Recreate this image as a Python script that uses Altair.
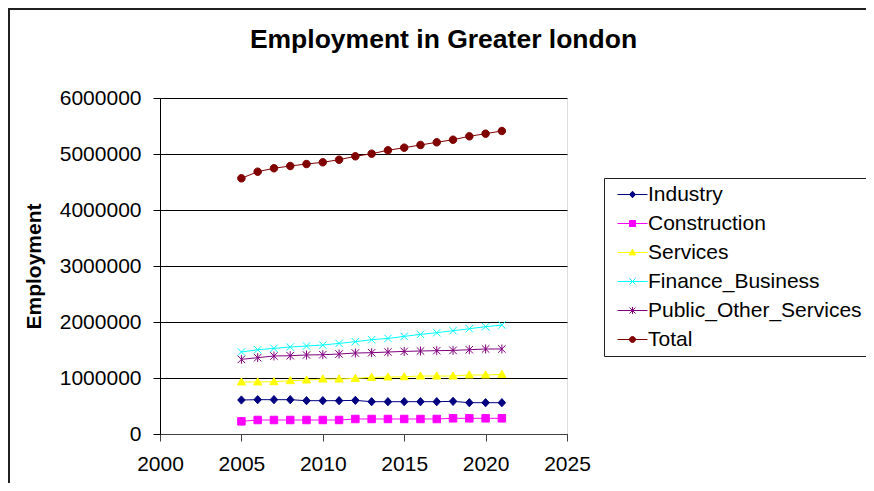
import altair as alt
import pandas as pd

years = list(range(2005, 2022))
series = ["Industry", "Construction", "Services", "Finance_Business", "Public_Other_Services", "Total"]
colors = ["#000080", "#FF00FF", "#FFFF00", "#00FFFF", "#800080", "#800000"]

industry = [607000, 613000, 613000, 613000, 595000, 595000, 595000, 601000, 577000,
            577000, 577000, 577000, 577000, 583000, 559000, 559000, 559000]
construction = [226000, 250000, 250000, 250000, 250000, 250000, 250000, 268000, 268000,
                268000, 268000, 268000, 268000, 280000, 280000, 280000, 280000]
services = [929000, 929000, 934000, 952000, 964000, 982000, 982000, 993000, 1011000,
            1017000, 1023000, 1035000, 1035000, 1035000, 1054000, 1054000, 1064000]
finance = [1464000, 1505000, 1529000, 1553000, 1571000, 1589000, 1618000, 1648000, 1684000,
           1707000, 1743000, 1779000, 1809000, 1845000, 1880000, 1916000, 1946000]
public = [1333000, 1363000, 1393000, 1398000, 1411000, 1416000, 1428000, 1446000, 1452000,
          1464000, 1475000, 1482000, 1488000, 1493000, 1505000, 1518000, 1518000]
total = [4566000, 4684000, 4745000, 4786000, 4821000, 4852000, 4898000, 4959000, 5005000,
         5066000, 5113000, 5161000, 5209000, 5255000, 5316000, 5363000, 5411000]

x_ticks = [2000, 2005, 2010, 2015, 2020, 2025]
y_ticks = [0, 1000000, 2000000, 3000000, 4000000, 5000000, 6000000]

marker_paths = [
    "M0,-1.1L1,0L0,1.1L-1,0Z",
    "M-1,-1L1,-1L1,1L-1,1Z",
    "M0,-1.1L1.1,0.8L-1.1,0.8Z",
    "M-1,-1L1,1M-1,1L1,-1",
    "M-1,-1L1,1M-1,1L1,-1M0,-1.2L0,1.2",
    "M1,0A1,1,0,1,1,-1,0A1,1,0,1,1,1,0Z",
]
legend_line = "M-5,0L5,0"
legend_paths = [legend_line + p for p in marker_paths]

values = [industry, construction, services, finance, public, total]
rows = []
for name, vals in zip(series, values):
    for yr, v in zip(years, vals):
        rows.append({"year": yr, "series": name, "value": v, "entry": name})
df = pd.DataFrame(rows)

FONT = "Liberation Sans"

color_scale = alt.Scale(domain=series, range=colors)

x_enc = alt.X("year:Q", scale=alt.Scale(domain=[2000, 2025], nice=False, zero=False),
              axis=alt.Axis(values=x_ticks, format="d", title=None, grid=False,
                            labelFont=FONT, labelFontSize=21, labelColor="black",
                            labelPadding=12, tickSize=7, tickColor="#404040",
                            domainColor="#404040", labelFlush=False))
y_enc = alt.Y("value:Q", scale=alt.Scale(domain=[0, 6000000], nice=False),
              axis=alt.Axis(values=y_ticks, format="d", title="Employment",
                            titleFont=FONT, titleFontSize=21, titleFontWeight="bold",
                            titleColor="black", titlePadding=15,
                            labelFont=FONT, labelFontSize=21, labelColor="black",
                            labelPadding=12, tickSize=7, tickColor="black",
                            domainColor="black", grid=True, gridColor="black",
                            gridWidth=1, labelFlush=False))

base = alt.Chart(df)
lines = base.mark_line(strokeWidth=1).encode(
    x=x_enc, y=y_enc,
    color=alt.Color("series:N", scale=color_scale, legend=None),
    detail="series:N",
)
points = base.mark_point(filled=True, size=56, strokeWidth=1, opacity=1).encode(
    x="year:Q", y="value:Q",
    color=alt.Color("series:N", scale=color_scale, legend=None),
    stroke=alt.Stroke("series:N", scale=color_scale, legend=None),
    shape=alt.Shape("series:N", scale=alt.Scale(domain=series, range=marker_paths), legend=None),
)

legend = alt.Legend(
    title=None, orient="none", legendX=444, legendY=80,
    labelFont=FONT, labelFontSize=21, labelColor="black", labelLimit=400,
    padding=6, rowPadding=7, symbolSize=36, symbolOffset=12, labelOffset=5,
    symbolStrokeWidth=1, symbolOpacity=1,
    strokeColor="#202020", fillColor="white",
)
legend_layer = base.transform_filter("false").mark_point(filled=True, size=36, strokeWidth=1).encode(
    color=alt.Color("entry:N", scale=alt.Scale(domain=series, range=colors), legend=legend),
    stroke=alt.Stroke("entry:N", scale=alt.Scale(domain=series, range=colors), legend=legend),
    shape=alt.Shape("entry:N", scale=alt.Scale(domain=series, range=legend_paths), legend=legend),
)

frame_df = pd.DataFrame({"k": [0]})
border_left = alt.Chart(frame_df).mark_rule(color="#202020", strokeWidth=2).encode(
    x=alt.value(-151), y=alt.value(-90), y2=alt.value(385))
border_top = alt.Chart(frame_df).mark_rule(color="#202020", strokeWidth=2).encode(
    x=alt.value(-152), x2=alt.value(706), y=alt.value(-89))

chart = alt.layer(lines, points, legend_layer, border_left, border_top).resolve_scale(
    color="independent", stroke="independent", shape="independent"
).properties(
    width=407, height=336,
    padding={"left": 152, "top": 90, "right": 299, "bottom": 49},
    autosize=alt.AutoSizeParams(type="none"),
    title=alt.TitleParams("Employment in Greater london", font=FONT, fontSize=26.5,
                          fontWeight="bold", color="black", anchor="middle",
                          frame="group", dx=80, offset=-46),
).configure_view(stroke="#808080", strokeWidth=1).configure(background="white")

chart.save("out.html", embed_options={"renderer": "svg", "actions": False})
